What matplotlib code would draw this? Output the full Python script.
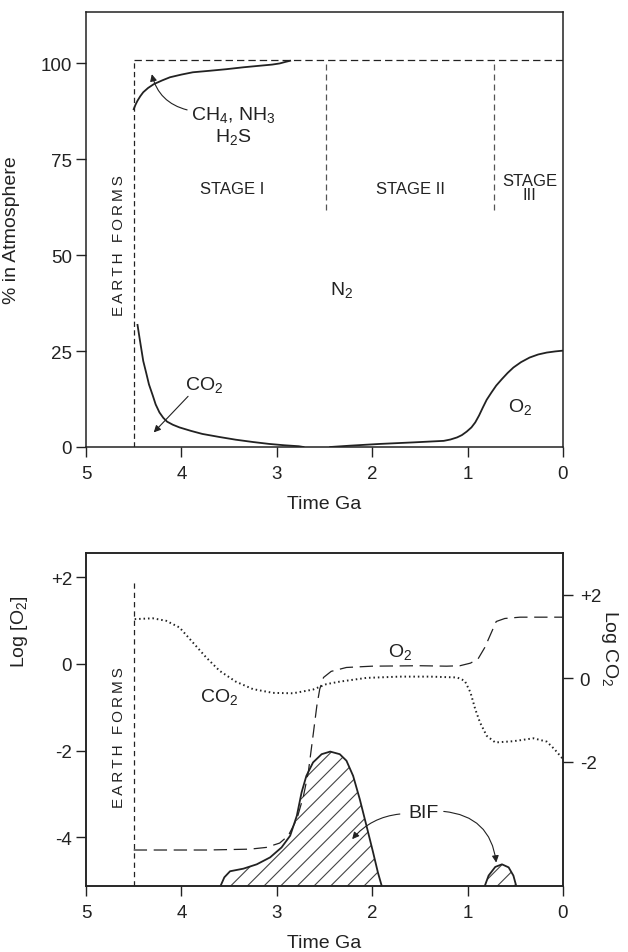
import matplotlib
matplotlib.use('Agg')
import matplotlib.pyplot as plt

plt.rcParams['font.family'] = ['Liberation Sans', 'DejaVu Sans']
plt.rcParams['mathtext.fontset'] = 'custom'
plt.rcParams['mathtext.rm'] = 'Liberation Sans'
plt.rcParams['mathtext.default'] = 'regular'
plt.rcParams['lines.scale_dashes'] = False
plt.rcParams['hatch.linewidth'] = 0.8

ink = '#222222'

# time axis ticks (Ga)
time_ticks = [5, 4, 3, 2, 1, 0]

# top panel: % in atmosphere
ch4_t = [4.50, 4.48, 4.46, 4.43, 4.40, 4.35, 4.29, 4.20, 4.12, 4.00, 3.88, 3.70, 3.53, 3.35,
         3.18, 3.05, 2.97, 2.91, 2.86]
ch4_v = [88.0, 89.2, 90.2, 91.4, 92.4, 93.5, 94.5, 95.5, 96.3, 97.0, 97.6, 98.0, 98.4, 98.9,
         99.3, 99.6, 99.9, 100.3, 100.6]

co2_t = [4.46, 4.44, 4.42, 4.40, 4.37, 4.34, 4.30, 4.27, 4.23, 4.19, 4.15, 4.09, 4.02, 3.90,
         3.78, 3.60, 3.43, 3.25, 3.08, 2.92, 2.77, 2.72]
co2_v = [31.8, 28.6, 25.5, 22.4, 19.4, 16.3, 13.4, 11.1, 9.0, 7.6, 6.6, 5.8, 5.1, 4.2,
         3.4, 2.6, 1.9, 1.3, 0.8, 0.45, 0.2, 0.0]

o2_t = [2.44, 2.23, 1.92, 1.57, 1.25, 1.18, 1.11, 1.06, 1.01, 0.96, 0.92, 0.88, 0.84, 0.80,
        0.75, 0.70, 0.64, 0.58, 0.52, 0.44, 0.35, 0.26, 0.17, 0.08, 0.0]
o2_v = [0.0, 0.35, 0.8, 1.2, 1.6, 1.95, 2.5, 3.1, 4.0, 5.1, 6.4, 8.2, 10.3, 12.3,
        14.2, 16.0, 17.7, 19.3, 20.7, 22.1, 23.3, 24.1, 24.6, 24.9, 25.1]

earth_forms = 4.5
stage_bounds = [2.48, 0.72]
pct_ticks = [0, 25, 50, 75, 100]

# bottom panel: log O2 (left axis), log CO2 (right axis)
o2log_t = [4.50, 3.73, 3.28, 3.11, 2.97, 2.88, 2.79, 2.72, 2.67, 2.62, 2.58, 2.55, 2.51,
           2.43, 2.27, 2.00, 1.50, 1.22, 1.08, 0.97, 0.89, 0.82, 0.75, 0.70, 0.61, 0.45, 0.0]
o2log_v = [-4.29, -4.29, -4.27, -4.23, -4.13, -3.96, -3.58, -3.04, -2.50, -1.65, -0.96, -0.58, -0.31,
           -0.17, -0.08, -0.05, -0.04, -0.05, -0.04, 0.02, 0.12, 0.38, 0.73, 0.98, 1.05, 1.08, 1.08]

co2log_t = [4.49, 4.30, 4.16, 4.02, 3.88, 3.74, 3.60, 3.43, 3.25, 3.04, 2.83, 2.62, 2.48, 2.34,
            2.06, 1.71, 1.39, 1.11, 1.03, 0.97, 0.92, 0.87, 0.80, 0.71, 0.52, 0.31, 0.17, 0.09, 0.0]
co2log_v = [1.42, 1.44, 1.38, 1.22, 0.86, 0.50, 0.18, -0.08, -0.26, -0.35, -0.36, -0.27, -0.14, -0.08,
            0.01, 0.04, 0.04, 0.02, -0.06, -0.34, -0.74, -1.06, -1.38, -1.54, -1.51, -1.44, -1.52, -1.70, -1.94]

bif1_t = [3.59, 3.55, 3.49, 3.35, 3.21, 3.07, 2.95, 2.86, 2.79, 2.74, 2.69, 2.62, 2.53, 2.44,
          2.34, 2.27, 2.20, 2.13, 2.06, 1.99, 1.94, 1.90]
bif1_v = [-5.12, -4.92, -4.78, -4.72, -4.62, -4.46, -4.23, -3.96, -3.50, -2.96, -2.58, -2.27, -2.08, -2.02,
          -2.08, -2.23, -2.58, -3.12, -3.73, -4.35, -4.81, -5.12]
bif2_t = [0.82, 0.78, 0.71, 0.64, 0.57, 0.52, 0.49]
bif2_v = [-5.12, -4.88, -4.68, -4.62, -4.69, -4.88, -5.12]

o2_ticks = [2, 0, -2, -4]
o2_labels = ['+2', '0', '-2', '-4']
co2_ticks = [2, 0, -2]
co2_labels = ['+2', '0', '-2']

fig = plt.figure(figsize=(6.28, 9.53), dpi=100)
ax1 = fig.add_axes([86/628, 505/953, 477/628, 435/953])
ax2 = fig.add_axes([86/628, 66/953, 477/628, 333/953])


def style(ax):
    for s in ax.spines.values():
        s.set_linewidth(1.1)
        s.set_color(ink)
    ax.tick_params(direction='out', length=7, width=1.0, color=ink,
                   labelsize=13.5, labelcolor=ink)
    ax.tick_params(axis='x', pad=6)
    ax.tick_params(axis='y', pad=3)


# ---------------- top panel ----------------
style(ax1)
ax1.set_xlim(5, 0)
ax1.set_ylim(0, 113.3)
ax1.set_xticks(time_ticks)
ax1.set_yticks(pct_ticks)
ax1.set_xlabel('Time Ga', fontsize=14, color=ink, labelpad=9)
ax1.set_ylabel('% in Atmosphere', fontsize=14, color=ink)
ax1.yaxis.set_label_coords(-0.138, 0.5)

ax1.plot([earth_forms, earth_forms], [0, 100.8], color=ink, lw=0.9, ls=(0, (3.8, 2.4)))
ax1.plot([earth_forms, 0], [100.8, 100.8], color=ink, lw=0.9, ls=(0, (5.3, 2.9)))
for b in stage_bounds:
    ax1.plot([b, b], [61.7, 100.8], color='#555555', lw=0.9, ls=(0, (4.3, 2.9)))

ax1.plot(ch4_t, ch4_v, color=ink, lw=1.3)
ax1.plot(co2_t, co2_v, color=ink, lw=1.3)
ax1.plot(o2_t, o2_v, color=ink, lw=1.3)

ax1.text(3.46, 86.7, 'CH$_4$, NH$_3$', fontsize=14, color=ink, ha='center', va='center')
ax1.text(3.46, 81.1, 'H$_2$S', fontsize=14, color=ink, ha='center', va='center')
ax1.annotate('', xy=(4.31, 97.1), xytext=(3.94, 87.8),
             arrowprops=dict(arrowstyle='-|>', color=ink, lw=0.8, mutation_scale=10,
                             connectionstyle='arc3,rad=-0.3', shrinkA=0, shrinkB=0))
ax1.text(3.76, 16.4, 'CO$_2$', fontsize=14, color=ink, ha='center', va='center')
ax1.annotate('', xy=(4.29, 3.8), xytext=(3.93, 13.2),
             arrowprops=dict(arrowstyle='-|>', color=ink, lw=0.8, mutation_scale=10,
                             shrinkA=0, shrinkB=0))
ax1.text(2.32, 41.1, 'N$_2$', fontsize=14, color=ink, ha='center', va='center')
ax1.text(0.45, 10.8, 'O$_2$', fontsize=14, color=ink, ha='center', va='center')
ax1.text(3.47, 67.2, 'STAGE I', fontsize=12, color=ink, ha='center', va='center')
ax1.text(1.60, 67.4, 'STAGE II', fontsize=12, color=ink, ha='center', va='center')
ax1.text(0.35, 67.6, 'STAGE\nIII', fontsize=12, color=ink, ha='center', va='center',
         linespacing=0.85)
ef_label = '\u2009'.join('EARTH') + '\u2009\u2009 ' + '\u2009'.join('FORMS')
ax1.text(4.65, 52.7, ef_label, fontsize=11, color=ink, rotation=90,
         ha='center', va='center')

# ---------------- bottom panel ----------------
style(ax2)
ax2.set_xlim(5, 0)
ax2.set_ylim(-5.12, 2.56)
ax2.set_xticks(time_ticks)
ax2.set_yticks(o2_ticks, o2_labels)
ax2.set_xlabel('Time Ga', fontsize=14, color=ink, labelpad=9)
ax2.set_ylabel('Log [O$_2$]', fontsize=14, color=ink)
ax2.yaxis.set_label_coords(-0.117, 0.766)

ax2r = ax2.twinx()
style(ax2r)
ax2r.set_ylim(-4.985, 3.007)
ax2r.set_yticks(co2_ticks, co2_labels)
ax2r.tick_params(axis='y', pad=5)
ax2r.set_ylabel('Log CO$_2$', fontsize=14, color=ink, rotation=270)
ax2r.yaxis.set_label_coords(1.12, 0.718)

ax2.plot([earth_forms, earth_forms], [-5.12, 1.89], color=ink, lw=0.9, ls=(0, (3.8, 2.9)))

ax2.fill_between(bif1_t, bif1_v, -5.12, facecolor='none', edgecolor='#444444',
                 hatch='//', linewidth=0)
ax2.fill_between(bif2_t, bif2_v, -5.12, facecolor='none', edgecolor='#444444',
                 hatch='//', linewidth=0)
ax2.plot(bif1_t, bif1_v, color=ink, lw=1.3)
ax2.plot(bif2_t, bif2_v, color=ink, lw=1.3)

ax2.plot(o2log_t, o2log_v, color=ink, lw=0.9, ls=(0, (9.6, 4.8)))
ax2r.plot(co2log_t, co2log_v, color=ink, lw=1.4, ls=(0, (1.1, 2.1)))

ax2.text(1.71, 0.31, 'O$_2$', fontsize=14, color=ink, ha='center', va='center')
ax2.text(3.60, -0.73, 'CO$_2$', fontsize=14, color=ink, ha='center', va='center')
ax2.text(1.46, -3.42, 'BIF', fontsize=14, color=ink, ha='center', va='center')
ax2.annotate('', xy=(2.21, -4.04), xytext=(1.71, -3.46),
             arrowprops=dict(arrowstyle='-|>', color=ink, lw=0.8, mutation_scale=10,
                             connectionstyle='arc3,rad=0.2', shrinkA=0, shrinkB=0))
ax2.annotate('', xy=(0.70, -4.58), xytext=(1.25, -3.40),
             arrowprops=dict(arrowstyle='-|>', color=ink, lw=0.8, mutation_scale=10,
                             connectionstyle='arc3,rad=-0.4', shrinkA=0, shrinkB=0))
ax2.text(4.65, -1.67, ef_label, fontsize=11, color=ink, rotation=90,
         ha='center', va='center')

fig.savefig('out.png', dpi=100)
